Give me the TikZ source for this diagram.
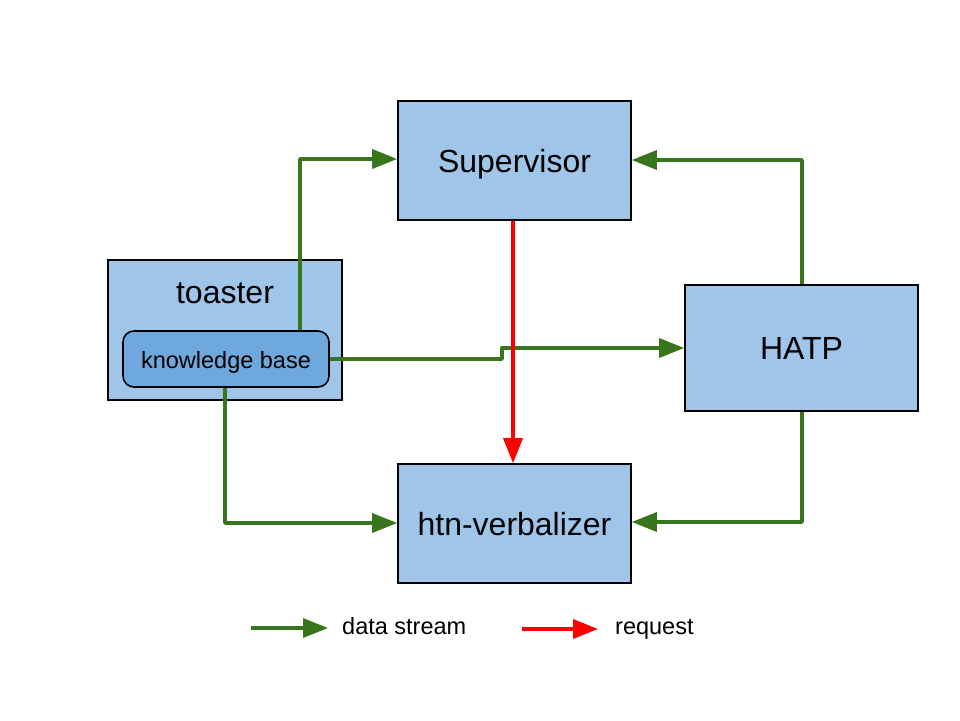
\documentclass[tikz,border=0pt]{standalone}
\usepackage{fontspec}
\setmainfont{Liberation Sans}
\usetikzlibrary{arrows.meta}
\definecolor{boxblue}{HTML}{9FC5E8}
\definecolor{kbblue}{HTML}{6FA8DC}
\definecolor{datagreen}{HTML}{38761D}
\definecolor{reqred}{HTML}{FF0000}
\begin{document}
\begin{tikzpicture}[x=1pt,y=-1pt,
  module/.style={draw=black,line width=1.6pt,fill=boxblue,inner sep=0pt,
    text height=23pt,text depth=0pt,font=\fontsize{32}{38}\selectfont},
  kbbox/.style={draw=black,line width=1.6pt,fill=kbblue,rounded corners=11pt,inner sep=0pt,
    text height=18.6pt,text depth=0pt,font=\fontsize{23.5}{28}\selectfont},
  stream/.style={draw=datagreen,line width=3.4pt,line join=round,-{Triangle[length=25pt,width=19pt]}},
  request/.style={draw=reqred,line width=3.6pt,-{Triangle[length=25pt,width=19pt]}},
  legendtext/.style={anchor=base west,inner sep=0pt,font=\fontsize{23.5}{28}\selectfont}]
  \useasboundingbox[fill=white] (0,0) rectangle (960,720);

  % modules
  \node[module,minimum width=233pt,minimum height=119pt] (sup) at (514.5,160.5) {Supervisor};
  \node[module,minimum width=234pt,minimum height=140pt] (toaster) at (225,330) {};
  \node[anchor=base,inner sep=0pt,font=\fontsize{32}{38}\selectfont] (toastlbl) at (225,303.3) {toaster};
  \node[kbbox,minimum width=206pt,minimum height=56pt] (kb) at (226,359) {knowledge base};
  \node[module,minimum width=233pt,minimum height=126pt] (hatp) at (801.5,348) {HATP};
  \node[module,minimum width=233pt,minimum height=119pt] (htn) at (514.5,523.5) {htn-verbalizer};

  % bend points of the data streams
  \coordinate (b1) at (300,159);
  \coordinate (b2) at (802,160);
  \coordinate (b3) at (502,359);
  \coordinate (b4) at (502,348);
  \coordinate (b5) at (225,523);
  \coordinate (b6) at (802,522);
  \coordinate (r1) at (513,0);

  % data streams
  \draw[stream] (b1 |- kb.north) -- (b1) -- (sup.west |- b1);
  \draw[stream] (b2 |- hatp.north) -- (b2) -- (sup.east |- b2);
  \draw[stream] (kb.east |- b3) -- (b3) -- (b4) -- (hatp.west |- b4);
  \draw[stream] (b5 |- kb.south) -- (b5) -- (htn.west |- b5);
  \draw[stream] (b6 |- hatp.south) -- (b6) -- (htn.east |- b6);

  % request
  \draw[request] (r1 |- sup.south) -- (r1 |- htn.north);

  % legend
  \coordinate (lg1) at (251,628);
  \coordinate (lg2) at (328,628);
  \coordinate (lr1) at (522,629);
  \coordinate (lr2) at (598,629);
  \draw[stream] (lg1) -- (lg2);
  \node[legendtext] (lgtext) at (342,634.3) {data stream};
  \draw[request] (lr1) -- (lr2);
  \node[legendtext] (lrtext) at (615,634.3) {request};
\end{tikzpicture}
\end{document}
